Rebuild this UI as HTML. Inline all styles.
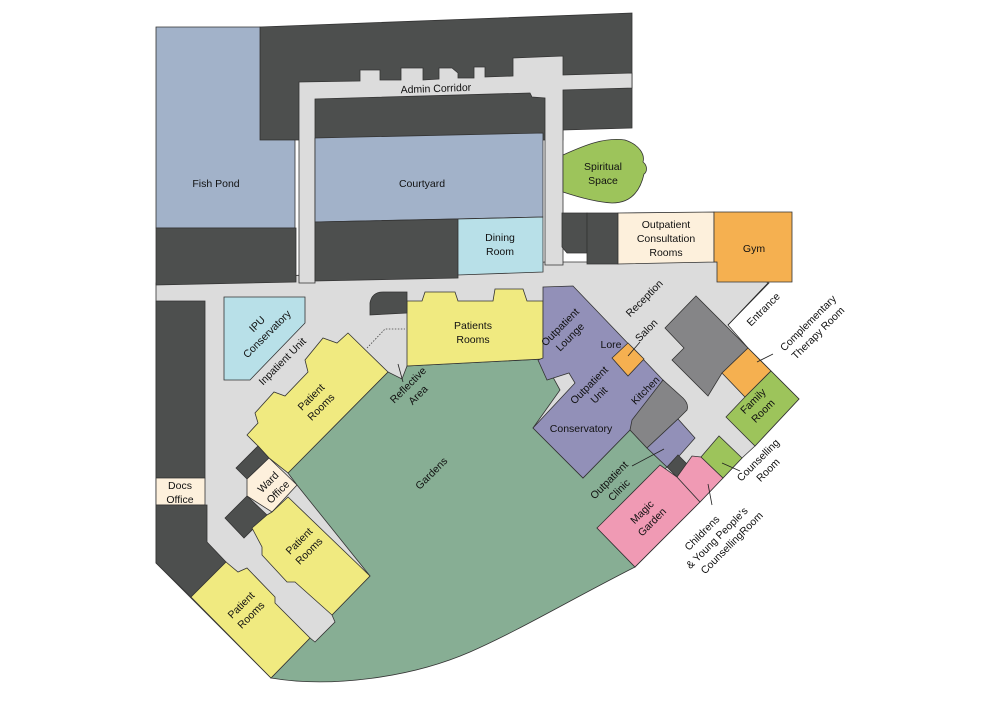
<!DOCTYPE html>
<html><head><meta charset="utf-8"><style>
html,body{margin:0;padding:0;background:#fff;}
svg{display:block;}
text{font-family:"Liberation Sans",sans-serif;font-size:10.5px;fill:#111;}
</style></head><body>
<svg width="1001" height="701" viewBox="0 0 1001 701" xmlns="http://www.w3.org/2000/svg">
<g stroke="#333" stroke-width="0.8" stroke-linejoin="miter">
<polygon fill="#dcdcdc" points="156,283 545,262 717,262 769,283 728,325 748,348 771,371 799,399 755,446 742,458 700,502 635,567 271,678 156,563"/>
<polygon fill="#4d4f4e" points="260,27 632,13 632,128 563,130 563,140 260,140"/>
<polygon fill="#a2b2c9" points="156,27 260,27 260,140 295,140 295,228 156,228"/>
<polygon fill="#4d4f4e" points="156,228 296,228 296,282 156,285"/>
<polygon fill="#dcdcdc" points="299,82 360,81 360,70 380,70 380,80 401,80 401,68 423,68 423,80 439,79 439,68 452,68 458,73 458,78 474,78 474,67 485,67 485,77 513,76 513,58 563,56 563,75 632,73 632,88 563,90 563,265 545,265 545,98 532,97 530,93 315,99 315,283 299,283"/>
<polygon fill="#a2b2c9" points="315,138 543,133 543,217 315,222"/>
<polygon fill="#4d4f4e" points="315,222 458,219 458,278 315,281"/>
<polygon fill="#b8e0e8" points="458,219 543,217 543,272 458,275"/>
<path fill="#9dc45b" d="M563,155 C585,145 605,137 625,140 C640,145 645,155 643,162 C648,166 647,172 644,174 C640,192 630,203 612,203 C595,202 575,196 563,192 Z"/>
<polygon fill="#4d4f4e" points="562,213 587,213 587,253 567,253 562,247"/>
<polygon fill="#4d4f4e" points="587,213 618,213 618,264 587,264"/>
<polygon fill="#fdf0dc" points="618,213 714,212 714,262 618,264"/>
<polygon fill="#f5b050" points="714,212 792,212 792,282 717,282 717,262 714,262"/>
<polygon fill="#4d4f4e" points="156,301 205,301 205,478 156,478"/>
<polygon fill="#fdf0dc" points="156,478 205,478 205,505 156,505"/>
<polygon fill="#4d4f4e" points="156,505 207,505 207,542 226,562 191,597 156,563"/>
<polygon fill="#b8e0e8" points="224,297 305,297 305,323 250,380 224,380"/>
<path fill="#87ae94" d="M288,473 L388,372 L402,379 L407,366 L543,359 L560,390 L533,428 L583,478 L630,430 L647,448 L667,467 L597,528 L635,567 C570,600 520,630 470,652 C410,678 330,688 271,678 L310,638 L315,642 L335,622 L332,615 L370,576 L297,485 Z"/>
<polygon fill="#f0ea80" points="407,301 422,301 425,292 455,292 458,301 493,301 495,289 523,289 527,301 543,301 543,359 407,366"/>
<path fill="#4d4f4e" d="M370,315 L370,303 Q372,292 383,292 L407,292 L407,313 Z"/>
<polygon fill="#f0ea80" points="247,435 258,423 255,413 274,392 285,396 308,372 305,360 323,338 337,343 348,333 388,372 288,473 269,458 258,446"/>
<polygon fill="#4d4f4e" points="236,468 258,446 269,458 247,479"/>
<polygon fill="#fdf0dc" points="247,479 269,458 297,485 272,512 247,496"/>
<polygon fill="#4d4f4e" points="225,518 247,496 267,515 244,538"/>
<polygon fill="#f0ea80" points="252,528 267,515 272,512 288,497 370,576 332,615 295,582 287,582 262,555 262,547"/>
<polygon fill="#f0ea80" points="191,597 226,562 238,572 247,568 275,597 275,603 310,638 271,678"/>
<polygon fill="#9290b8" points="543,287 573,286 663,380 630,430 583,478 533,428 575,383 569,373 547,380 538,360 543,358"/>
<polygon fill="#f5b050" points="612,358 628,343 644,359 628,376"/>
<path fill="#858587" d="M630,430 L632,420 L663,380 L683,398 Q689,404 687,410 L678,419 L647,448 Z"/>
<polygon fill="#9290b8" points="647,448 678,419 695,438 680,455 667,467"/>
<polygon fill="#4d4f4e" points="667,467 678,455 688,465 677,477"/>
<polygon fill="#f09ab4" points="597,528 660,465 677,477 700,502 635,567"/>
<polygon fill="#f09ab4" points="677,477 692,456 701,457 723,478 700,502"/>
<polygon fill="#9dc45b" points="701,457 719,436 742,458 723,478"/>
<polygon fill="#858587" points="665,328 696,296 748,348 722,373 708,396 672,360 684,348"/>
<polygon fill="#f5b050" points="722,373 748,348 771,371 745,397"/>
<polygon fill="#9dc45b" points="771,371 799,399 755,446 726,417 745,397"/>
</g>
<g stroke="#222" stroke-width="0.8" fill="none">
<line x1="628" y1="356" x2="640" y2="342"/>
<line x1="757" y1="362" x2="773" y2="354"/>
<line x1="632" y1="466" x2="664" y2="449"/>
<line x1="708" y1="484" x2="712" y2="505"/>
<line x1="722" y1="463" x2="740" y2="471"/>
<line x1="398" y1="364" x2="403" y2="382"/>
<polyline points="367,348 385,329 405,329" stroke-dasharray="1.5,1.5" stroke="#444"/>
<line x1="768" y1="283" x2="728" y2="325"/>
</g>
<g text-anchor="middle">
<text x="436" y="92" transform="rotate(-2 436 92)">Admin Corridor</text>
<text x="216" y="187">Fish Pond</text>
<text x="422" y="187">Courtyard</text>
<text x="603" y="170">Spiritual</text><text x="603" y="184">Space</text>
<text x="500" y="241">Dining</text><text x="500" y="255">Room</text>
<text x="666" y="228">Outpatient</text><text x="666" y="242">Consultation</text><text x="666" y="256">Rooms</text>
<text x="754" y="252">Gym</text>
<text x="180" y="489">Docs</text><text x="180" y="503">Office</text>
<text x="473" y="329">Patients</text><text x="473" y="343">Rooms</text>
<text x="581" y="432">Conservatory</text>
<text x="611" y="348">Lore</text>
<g transform="rotate(-45 644 298)"><text x="644" y="302">Reception</text></g>
<g transform="rotate(-45 261 328)"><text x="261" y="326">IPU</text><text x="261" y="340">Conservatory</text></g>
<g transform="rotate(-45 282 361)"><text x="282" y="365">Inpatient Unit</text></g>
<g transform="rotate(-45 315 401)"><text x="315" y="399">Patient</text><text x="315" y="413">Rooms</text></g>
<g transform="rotate(-45 412 389)"><text x="412" y="387">Reflective</text><text x="412" y="401">Area</text></g>
<g transform="rotate(-45 431 473)"><text x="431" y="477">Gardens</text></g>
<g transform="rotate(-45 272 486)"><text x="272" y="484">Ward</text><text x="272" y="498">Office</text></g>
<g transform="rotate(-45 303 545)"><text x="303" y="543">Patient</text><text x="303" y="557">Rooms</text></g>
<g transform="rotate(-45 245 609)"><text x="245" y="607">Patient</text><text x="245" y="621">Rooms</text></g>
<g transform="rotate(-45 564 331)"><text x="564" y="329">Outpatient</text><text x="564" y="343">Lounge</text></g>
<g transform="rotate(-45 646 330)"><text x="646" y="334">Salon</text></g>
<g transform="rotate(-45 593 389)"><text x="593" y="387">Outpatient</text><text x="593" y="401">Unit</text></g>
<g transform="rotate(-45 645 390)"><text x="645" y="394">Kitchen</text></g>
<g transform="rotate(-45 613 484)"><text x="613" y="482">Outpatient</text><text x="613" y="496">Clinic</text></g>
<g transform="rotate(-45 646 516)"><text x="646" y="514">Magic</text><text x="646" y="528">Garden</text></g>
<g transform="rotate(-45 718 539)"><text x="711" y="527">Childrens</text><text x="718" y="541">&amp; Young People's</text><text x="725" y="555">CounsellingRoom</text></g>
<g transform="rotate(-45 762 464)"><text x="762" y="462">Counselling</text><text x="762" y="476">Room</text></g>
<g transform="rotate(-45 757 405)"><text x="757" y="403">Family</text><text x="757" y="417">Room</text></g>
<g transform="rotate(-45 812 327)"><text x="812" y="325">Complementary</text><text x="812" y="339">Therapy Room</text></g>
<g transform="rotate(-45 763 309)"><text x="763" y="313">Entrance</text></g>
</g>
</svg>
</body></html>
